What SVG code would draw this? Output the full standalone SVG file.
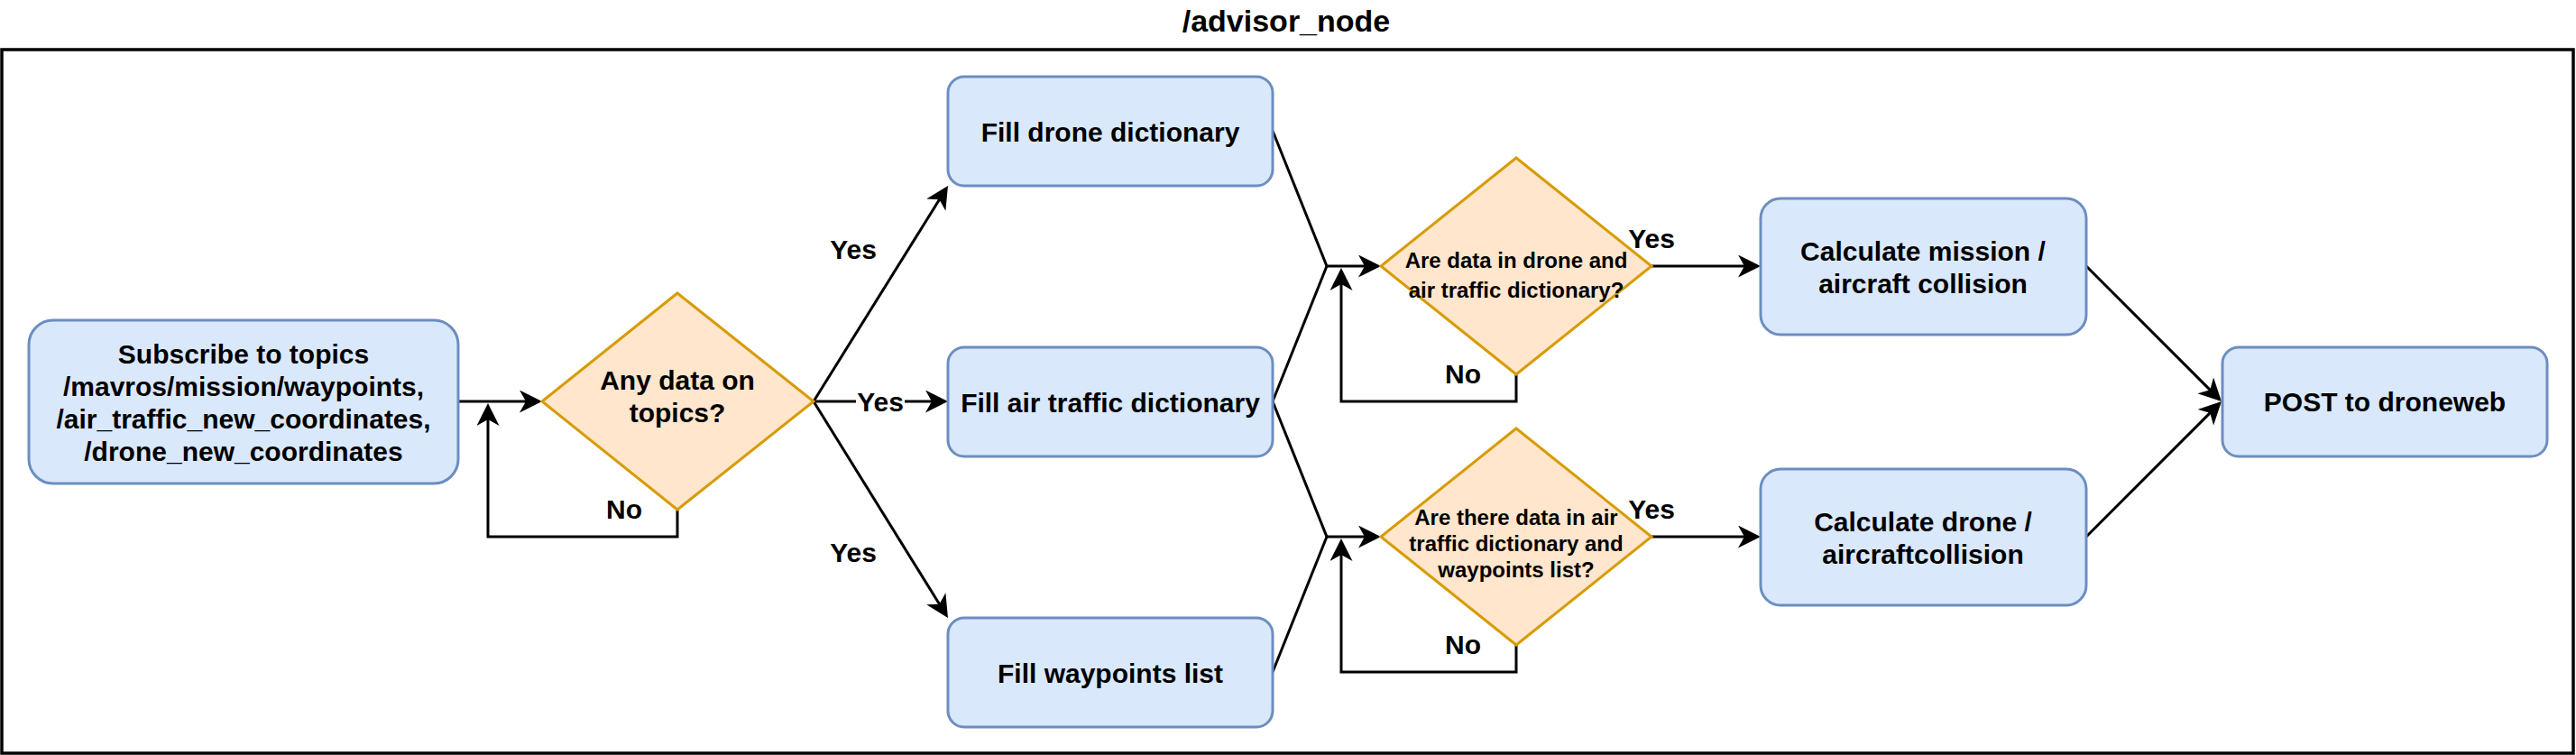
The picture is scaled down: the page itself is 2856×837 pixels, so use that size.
<svg xmlns="http://www.w3.org/2000/svg" width="2856" height="837" viewBox="0 0 2856 837">
<style>
text{font-family:"Liberation Sans",Arial,sans-serif;font-weight:bold;fill:#000;text-anchor:middle}
.t30{font-size:30px}
.t24{font-size:24px}
.box{fill:#dae8fc;stroke:#6c8ebf;stroke-width:3}
.dia{fill:#ffe6cc;stroke:#d79b00;stroke-width:3}
.edge{fill:none;stroke:#000;stroke-width:3}
.arr{marker-end:url(#ah)}
</style>
<defs>
<marker id="ah" markerUnits="userSpaceOnUse" markerWidth="26" markerHeight="26" refX="15" refY="12.5" orient="auto">
<path d="M0,0 L25,12.5 L0,25 L7,12.5 Z" fill="#000"/>
</marker>
</defs>
<rect width="2856" height="837" fill="#fff"/>
<g id="frame">
<rect x="2" y="55" width="2851" height="780" fill="none" stroke="#000" stroke-width="3.5"/>
<text x="1426" y="35" style="font-size:34px">/advisor_node</text>
</g>
<g id="connectors">
<path class="edge arr" d="M508,445 H591"/>
<path class="edge arr" d="M751,565 V595 H541 V457"/>
<path class="edge arr" d="M902,445 L1045.7,214.5"/>
<path class="edge arr" d="M902,445 H1041"/>
<path class="edge arr" d="M902,445 L1045.7,676.5"/>
<path class="edge arr" d="M1411,145 L1471,295 H1521"/>
<path class="edge" d="M1411,445 L1471,295"/>
<path class="edge arr" d="M1681,415 V445 H1487 V307"/>
<path class="edge arr" d="M1411,445 L1471,595 H1521"/>
<path class="edge" d="M1411,745 L1471,595"/>
<path class="edge arr" d="M1681,715 V745 H1487 V607"/>
<path class="edge arr" d="M1831,295 H1942"/>
<path class="edge arr" d="M1831,595 H1942"/>
<path class="edge arr" d="M2313,295 L2455.9,437.9"/>
<path class="edge arr" d="M2313,595 L2455.9,452.1"/>
<rect x="949" y="430" width="54" height="32" fill="#fff"/>
<text class="t30" x="976" y="456">Yes</text>
<text class="t30" x="946" y="287">Yes</text>
<text class="t30" x="946" y="623">Yes</text>
<text class="t30" x="1831" y="275">Yes</text>
<text class="t30" x="1831" y="575">Yes</text>
<text class="t30" x="692" y="575">No</text>
<text class="t30" x="1622" y="425">No</text>
<text class="t30" x="1622" y="725">No</text>
</g>
<g id="subscribe">
<rect class="box" x="32" y="355" width="476" height="181" rx="27"/>
<text class="t30" x="270" y="403">Subscribe to topics</text>
<text class="t30" x="270" y="439">/mavros/mission/waypoints,</text>
<text class="t30" x="270" y="475">/air_traffic_new_coordinates,</text>
<text class="t30" x="270" y="511">/drone_new_coordinates</text>
</g>
<g id="any-data">
<polygon class="dia" points="751,325 902,445 751,565 601,445"/>
<text class="t30" x="751" y="432">Any data on</text>
<text class="t30" x="751" y="468">topics?</text>
</g>
<g id="fill-drone">
<rect class="box" x="1051" y="85" width="360" height="121" rx="18"/>
<text class="t30" x="1231" y="157">Fill drone dictionary</text>
</g>
<g id="fill-air">
<rect class="box" x="1051" y="385" width="360" height="121" rx="18"/>
<text class="t30" x="1231" y="457">Fill air traffic dictionary</text>
</g>
<g id="fill-waypoints">
<rect class="box" x="1051" y="685" width="360" height="121" rx="18"/>
<text class="t30" x="1231" y="757">Fill waypoints list</text>
</g>
<g id="check-drone-air">
<polygon class="dia" points="1681,175 1831,295 1681,415 1531,295"/>
<text class="t24" x="1681" y="297">Are data in drone and</text>
<text class="t24" x="1681" y="330">air traffic dictionary?</text>
</g>
<g id="check-air-waypoints">
<polygon class="dia" points="1681,475 1831,595 1681,715 1531,595"/>
<text class="t24" x="1681" y="582">Are there data in air</text>
<text class="t24" x="1681" y="611">traffic dictionary and</text>
<text class="t24" x="1681" y="640">waypoints list?</text>
</g>
<g id="calc-mission">
<rect class="box" x="1952" y="220" width="361" height="151" rx="22"/>
<text class="t30" x="2132" y="289">Calculate mission /</text>
<text class="t30" x="2132" y="325">aircraft collision</text>
</g>
<g id="calc-drone">
<rect class="box" x="1952" y="520" width="361" height="151" rx="22"/>
<text class="t30" x="2132" y="589">Calculate drone /</text>
<text class="t30" x="2132" y="625">aircraftcollision</text>
</g>
<g id="post">
<rect class="box" x="2464" y="385" width="360" height="121" rx="18"/>
<text class="t30" x="2644" y="456">POST to droneweb</text>
</g>
</svg>
